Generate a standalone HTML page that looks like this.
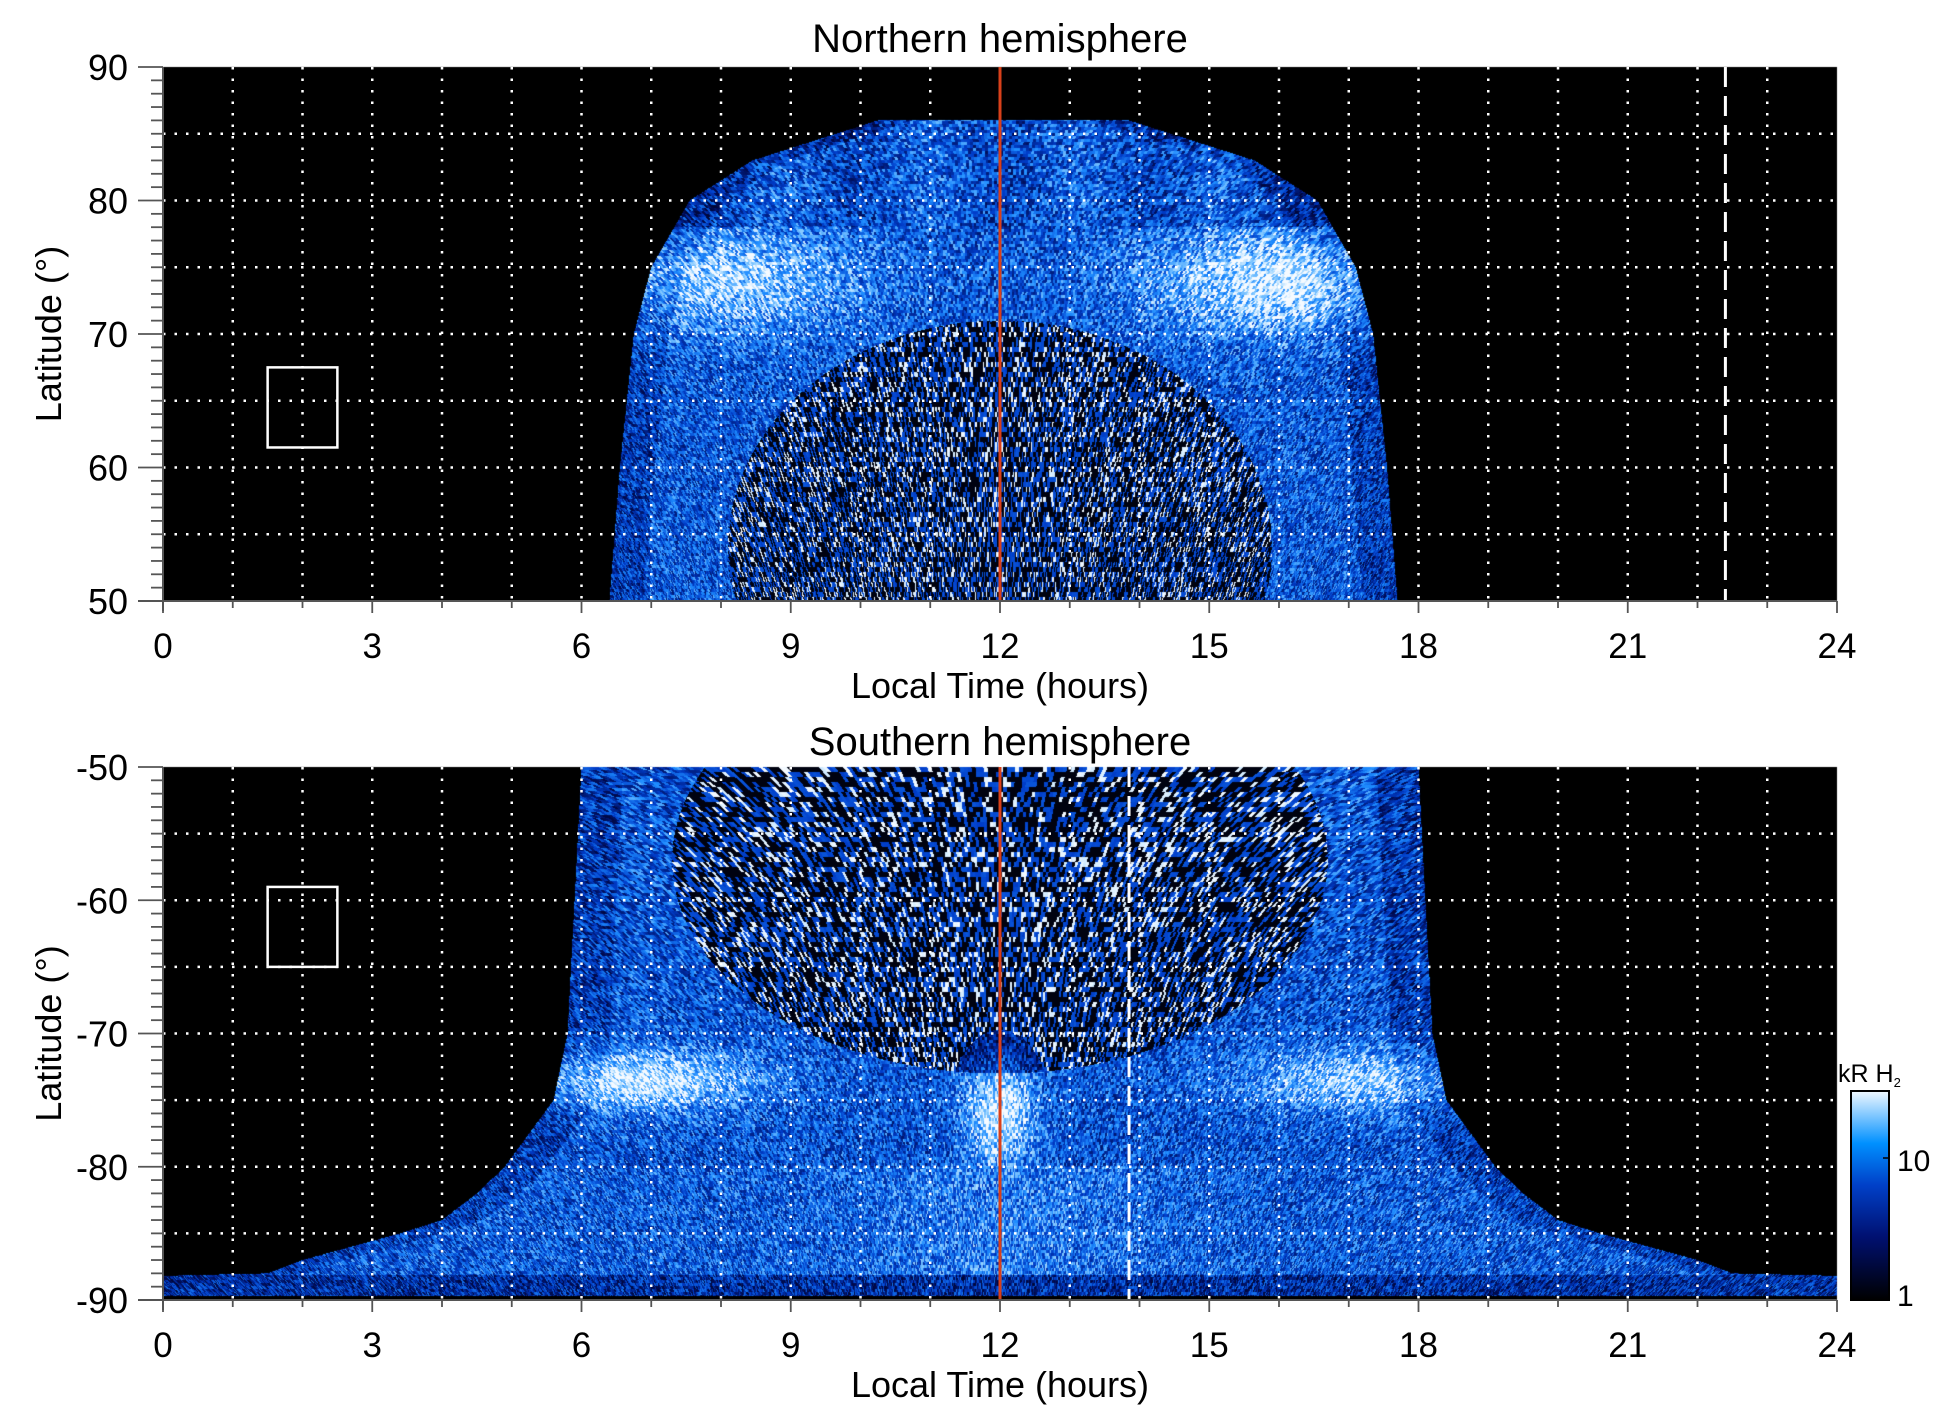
<!DOCTYPE html>
<html><head><meta charset="utf-8"><style>
html,body{margin:0;padding:0;background:#fff;}
body{width:1950px;height:1423px;position:relative;overflow:hidden;font-family:"Liberation Sans",sans-serif;}
canvas{position:absolute;left:0;top:0;}
svg{position:absolute;left:0;top:0;}
</style></head><body>
<canvas id="c" width="1950" height="1423"></canvas>
<svg id="s" width="1950" height="1423" xmlns="http://www.w3.org/2000/svg"></svg>
<script>
var X0=163,X1=1837,W=X1-X0;
var P=[{y0:67,y1:601,la0:90,la1:50,title:"Northern hemisphere",ty:52},
       {y0:767,y1:1300,la0:-50,la1:-90,title:"Southern hemisphere",ty:755}];
function hash(a,b){var h=(a*374761393+b*668265263)|0;h=(h^(h>>>13))*1274126177|0;return ((h^(h>>>16))>>>0)/4294967296;}
function interp(tab,x){for(var i=0;i<tab.length-1;i++){if(x>=tab[i][0]&&x<=tab[i+1][0]){var t=(x-tab[i][0])/(tab[i+1][0]-tab[i][0]);return tab[i][1]+t*(tab[i+1][1]-tab[i][1]);}}return 0;}
var cm=[[0,0,0,0],[0.25,0,10,80],[0.5,0,60,200],[0.72,30,140,255],[0.88,140,205,255],[1,245,250,255]];
function col(v){v=Math.max(0,Math.min(1,v));for(var i=0;i<cm.length-1;i++){if(v<=cm[i+1][0]){var t=(v-cm[i][0])/(cm[i+1][0]-cm[i][0]);return [cm[i][1]+t*(cm[i+1][1]-cm[i][1]),cm[i][2]+t*(cm[i+1][2]-cm[i][2]),cm[i][3]+t*(cm[i+1][3]-cm[i][3])];}}return [255,255,255];}
function gauss(d,s){return Math.exp(-d*d/(2*s*s));}
var wTop=[[50,5.65],[60,5.5],[70,5.3],[75,5.05],[80,4.5],[83,3.6],[85,2.4],[86,1.8]];
var wBot=[[-91,12.1],[-88.2,12.1],[-88,10.5],[-87,10],[-86,9.3],[-85,8.6],[-84,8],[-82,7.5],[-80,7.1],[-75,6.4],[-70,6.2],[-60,6.1],[-50,6.0]];
function valTop(lt,la){
 var w=interp(wTop,la);var d=Math.abs(lt-12.05);if(la>86||d>w)return -1;
 var ex=(lt-12)/3.9,ey=(la-54)/17;var r=Math.sqrt(ex*ex+ey*ey);
 var base=0.57;
 var side=lt>12?1.0:0.8;
 var ring=gauss(la-74,2.8)*gauss(d-3.9,1.3)*0.42*side;
 base+=ring;
 if(r<1){base=0.3;}
 if(la>78) base=0.56+0.05*Math.sin(lt*3);
 if(w-d<0.5) base-=0.1;
 return base;}
function valBot(lt,la){
 var w=interp(wBot,la);var d=Math.abs(lt-12);if(d>w||la<-89.7)return -1;
 if(la<-88.1) return 0.42;
 var ex=(lt-12)/4.7,ey=(la+57)/16;var r=Math.sqrt(ex*ex+ey*ey);
 var base=0.56;
 base+=gauss(la+73.5,1.6)*gauss(d-5.2,1.2)*0.45*(lt<12?1:0.8);
 if(r<1)base=0.3;
 base+=gauss(d,0.35)*gauss(la+76,3)*0.45;
 if(la<-80)base=0.58+0.1*gauss(d,1.5);
 if(w-d<0.6) base-=0.1;
 return base;}
var cv=document.getElementById('c'),ctx=cv.getContext('2d');
ctx.fillStyle="#fff";ctx.fillRect(0,0,1950,1423);
P.forEach(function(p,k){
 var H=p.y1-p.y0;var img=ctx.createImageData(W,H);
 for(var y=0;y<H;y++){var la=p.la0+(p.la1-p.la0)*(y+0.5)/H;
  for(var x=0;x<W;x++){var lt=24*(x+0.5)/W;
   var v=(k==0?valTop(lt,la):valBot(lt,la));var c=[0,0,0];
   if(v>=0){var sl=(lt-12)*0.9;var cx=Math.floor((x+ (y*sl*0.35))/4),cy=Math.floor(y/(v<0.35?5:3));
    var n=hash(cx+k*9999,cy);
    if(v<0.35){v= n<0.5?0.05:(n<0.85?0.4+n*0.2:0.7+n*0.3);}
    else v+= (n-0.5)*0.5;
    c=col(v);}
   var i=(y*W+x)*4;img.data[i]=c[0];img.data[i+1]=c[1];img.data[i+2]=c[2];img.data[i+3]=255;}}
 ctx.putImageData(img,X0,p.y0);
});
var s='';
function X(lt){return X0+W*lt/24;}
P.forEach(function(p,k){
 var Y=function(la){return p.y0+(p.y1-p.y0)*(la-p.la0)/(p.la1-p.la0);};
 for(var h=1;h<24;h++){s+='<line x1="'+X(h)+'" y1="'+p.y0+'" x2="'+X(h)+'" y2="'+p.y1+'" stroke="#fff" stroke-width="2.5" stroke-dasharray="2.5 9"/>';}
 for(var la=Math.min(p.la0,p.la1)+5;la<Math.max(p.la0,p.la1);la+=5){s+='<line x1="'+X0+'" y1="'+Y(la)+'" x2="'+X1+'" y2="'+Y(la)+'" stroke="#fff" stroke-width="2.5" stroke-dasharray="2.5 9"/>';}
 s+='<line x1="'+X(12)+'" y1="'+p.y0+'" x2="'+X(12)+'" y2="'+p.y1+'" stroke="#d8401a" stroke-width="3"/>';
 var dl=k==0?22.4:13.85;
 s+='<line x1="'+X(dl)+'" y1="'+p.y0+'" x2="'+X(dl)+'" y2="'+p.y1+'" stroke="#fff" stroke-width="3" stroke-dasharray="20 9"/>';
 var r=k==0?[67.5,61.5]:[-59,-65];
 s+='<rect x="'+X(1.5)+'" y="'+Y(r[0])+'" width="'+(X(2.5)-X(1.5))+'" height="'+(Y(r[1])-Y(r[0]))+'" fill="none" stroke="#fff" stroke-width="2.5"/>';
 s+='<line x1="'+X0+'" y1="'+p.y0+'" x2="'+X0+'" y2="'+(p.y1+10)+'" stroke="#555" stroke-width="2"/>';
 s+='<line x1="'+(X0-25)+'" y1="'+p.y1+'" x2="'+X1+'" y2="'+p.y1+'" stroke="#555" stroke-width="2"/>';
 var lo=Math.min(p.la0,p.la1),hi=Math.max(p.la0,p.la1);
 for(var la=lo;la<=hi;la++){var mj=(la%10==0);s+='<line x1="'+(X0-(mj?25:12))+'" y1="'+Y(la)+'" x2="'+X0+'" y2="'+Y(la)+'" stroke="#555" stroke-width="1.8"/>';
  if(mj)s+='<text x="'+(X0-35)+'" y="'+(Y(la)+13)+'" font-size="36" text-anchor="end">'+la+'</text>';}
 for(var h=0;h<=24;h++){var mj=h%3==0;s+='<line x1="'+X(h)+'" y1="'+p.y1+'" x2="'+X(h)+'" y2="'+(p.y1+(mj?12:7))+'" stroke="#555" stroke-width="1.8"/>';
  if(mj)s+='<text x="'+X(h)+'" y="'+(p.y1+57)+'" font-size="35" text-anchor="middle">'+h+'</text>';}
 s+='<text x="1000" y="'+(p.y1+97)+'" font-size="36" text-anchor="middle">Local Time (hours)</text>';
 s+='<text x="1000" y="'+p.ty+'" font-size="40" text-anchor="middle">'+p.title+'</text>';
 var cy=(p.y0+p.y1)/2;
 s+='<text transform="translate(61,'+cy+') rotate(-90)" font-size="36" text-anchor="middle">Latitude (°)</text>';
});
s+='<defs><linearGradient id="g" x1="0" y1="1" x2="0" y2="0"><stop offset="0" stop-color="#000"/><stop offset="0.3" stop-color="#001070"/><stop offset="0.55" stop-color="#0040c8"/><stop offset="0.75" stop-color="#0090ff"/><stop offset="1" stop-color="#f0f8ff"/></linearGradient></defs>';
s+='<rect x="1851" y="1091" width="38" height="209" fill="url(#g)" stroke="#000" stroke-width="2"/>';
s+='<line x1="1889" y1="1158" x2="1883" y2="1158" stroke="#000" stroke-width="1.5"/>';
s+='<text x="1897" y="1171" font-size="30">10</text><text x="1897" y="1306" font-size="30">1</text>';
s+='<text x="1838" y="1082" font-size="25">kR H<tspan font-size="13" dy="5">2</tspan></text>';
document.getElementById('s').innerHTML=s;
</script>
</body></html>
